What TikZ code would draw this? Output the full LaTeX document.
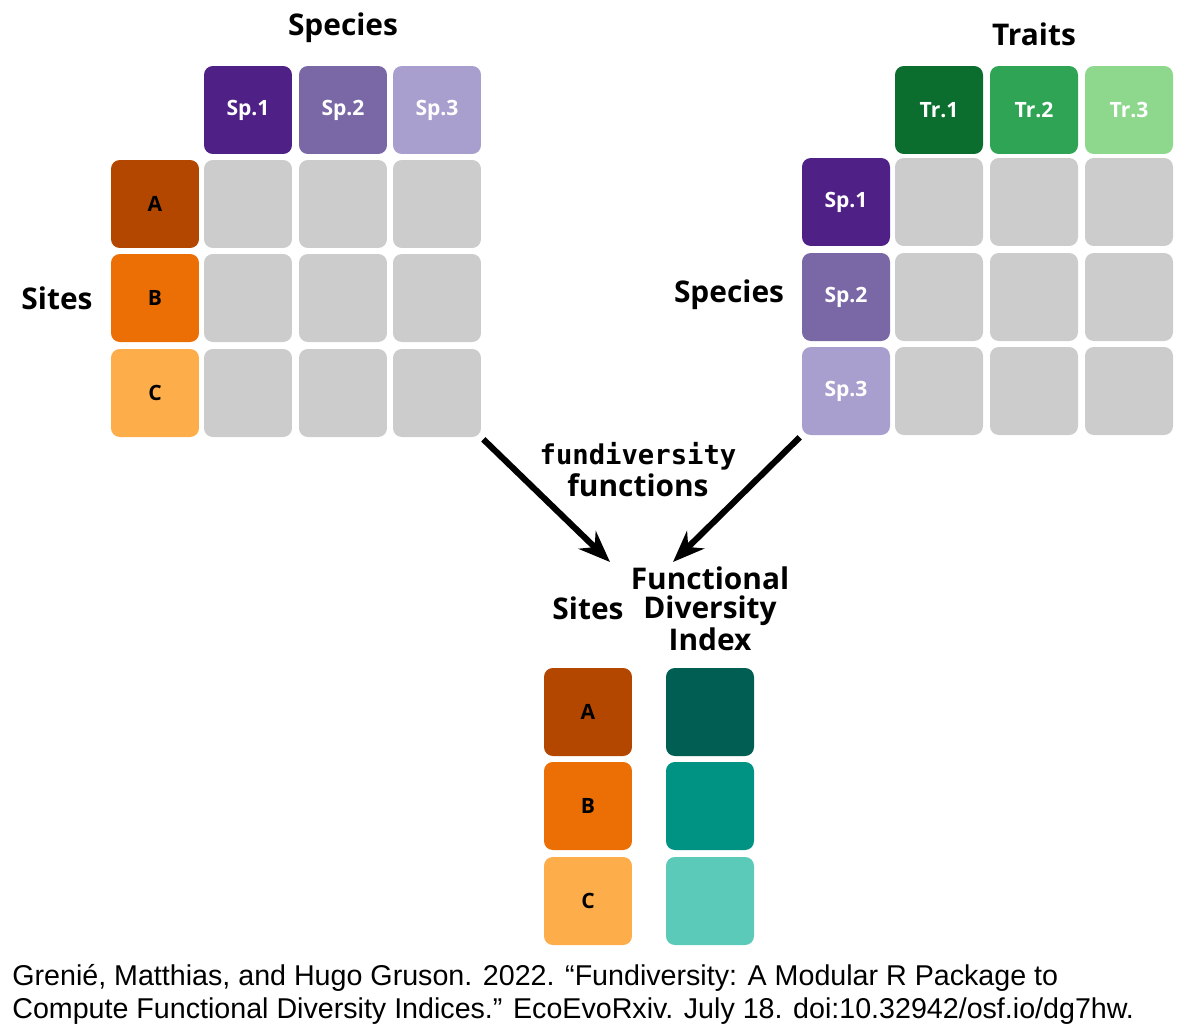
\documentclass[tikz,border=0pt]{standalone}
\usepackage{fontspec}
\setmainfont{Open Sans}
\newfontfamily\citefont{Liberation Sans}
\newfontfamily\codefont{DejaVu Sans Mono}
\usetikzlibrary{arrows.meta}
\definecolor{spA}{HTML}{4F2085}
\definecolor{spB}{HTML}{7A68A6}
\definecolor{spC}{HTML}{A99FCF}
\definecolor{trA}{HTML}{0B6E2E}
\definecolor{trB}{HTML}{2EA454}
\definecolor{trC}{HTML}{8ED88E}
\definecolor{stA}{HTML}{B34700}
\definecolor{stB}{HTML}{EC6F05}
\definecolor{stC}{HTML}{FDAE4A}
\definecolor{fdA}{HTML}{005E52}
\definecolor{fdB}{HTML}{009384}
\definecolor{fdC}{HTML}{5CCAB9}
\definecolor{cellgray}{HTML}{CCCCCC}
\begin{document}
\begin{tikzpicture}[x=0.02cm,y=-0.02cm]
\tikzset{
  cell/.style={minimum size=1.76cm,inner sep=0pt,rounded corners=5pt,fill=#1,font=\bfseries\fontsize{12}{14}\selectfont},
  head/.style={font=\bfseries\fontsize{17}{19}\selectfont,align=center},
  flow/.style={line width=3.5pt,-{Stealth[length=18pt,width=14pt]}}
}
\useasboundingbox (0,0) rectangle (1200,1032);
% community matrix
\node[head] (spechead) at (343,28) {Species};
\node[head] (sitehead) at (57,298) {Sites};
\foreach \n/\x/\c in {1/248/spA,2/343/spB,3/437/spC}
  \node[cell=\c,text=white] (lsp\n) at (\x,110) {Sp.\n};
\foreach \n/\y/\c/\t in {1/204/stA/A,2/298/stB/B,3/393/stC/C}{
  \node[cell=\c] (lst\n) at (155,\y) {\t};
  \foreach \m/\x in {1/248,2/343,3/437}
    \node[cell=cellgray] (lc\n\m) at (\x,\y) {};
}
% trait matrix
\node[head] (trhead) at (1034,34) {Traits};
\node[head] (sphead) at (729,295) {Species};
\foreach \n/\x/\c in {1/939/trA,2/1034/trB,3/1129/trC}
  \node[cell=\c,text=white] (rtr\n) at (\x,110) {Tr.\n};
\foreach \n/\y/\c in {1/202/spA,2/297/spB,3/391/spC}{
  \node[cell=\c,text=white] (rsp\n) at (846,\y) {Sp.\n};
  \foreach \m/\x in {1/939,2/1034,3/1129}
    \node[cell=cellgray] (rc\n\m) at (\x,\y) {};
}
% result
\node[head,font=\codefont\bfseries\fontsize{15.5}{18}\selectfont,inner sep=0pt] (fun) at (638,456) {fundiversity};
\node[head,inner sep=0pt] (funs) at (638,485) {functions};
\node[head] (sitebot) at (588,608) {Sites};
\node[head,inner sep=0pt,font=\bfseries\fontsize{17}{16.5}\selectfont] (fdhead) at (710,609) {Functional\\Diversity\\Index};
\foreach \n/\y/\c/\d/\t in {1/712/stA/fdA/A,2/806/stB/fdB/B,3/901/stC/fdC/C}{
  \node[cell=\c] (bst\n) at (588,\y) {\t};
  \node[cell=\d] (bfd\n) at (710,\y) {};
}
\coordinate (endl) at (610,562);
\coordinate (endr) at (673,562);
\draw[flow] (lc33.south east) ++(2,2) coordinate (startl) -- (endl);
\draw[flow] (rsp3.south west) ++(-2,2) coordinate (startr) -- (endr);
% citation
\node[anchor=north west,align=left,inner sep=0pt,font=\citefont\fontsize{16.3}{19}\selectfont] (cite) at (12,964)
  {Greni\'e, Matthias, and Hugo Gruson. 2022. \textquotedblleft Fundiversity: A Modular R Package to\\
   Compute Functional Diversity Indices.\textquotedblright{} EcoEvoRxiv. July 18. doi:10.32942/osf.io/dg7hw.};
\end{tikzpicture}
\end{document}
